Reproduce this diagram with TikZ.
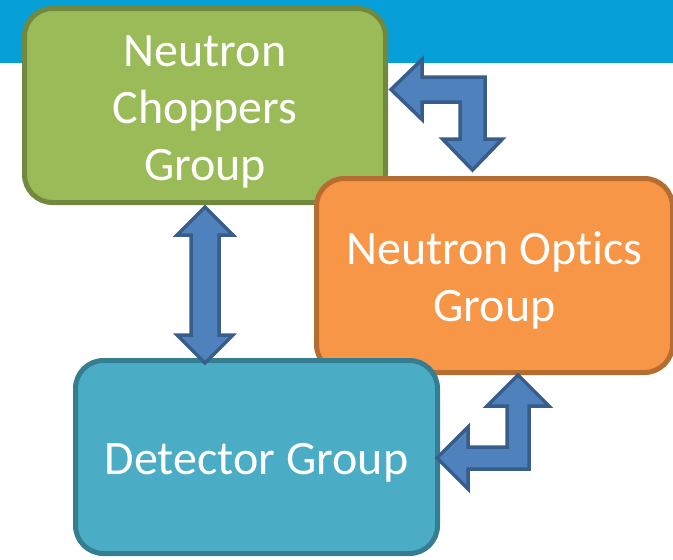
\documentclass[tikz,border=0pt]{standalone}
\usepackage{fontspec}
\setmainfont{Carlito}[Ligatures=NoCommon]
\usetikzlibrary{calc}

\definecolor{bandblue}{HTML}{069FD8}
\definecolor{grpgreen}{HTML}{9BBB59}
\definecolor{grpgreenline}{HTML}{71893F}
\definecolor{grporange}{HTML}{F79646}
\definecolor{grporangeline}{HTML}{B66D31}
\definecolor{grpteal}{HTML}{4BACC6}
\definecolor{grptealline}{HTML}{357D91}
\definecolor{arrowfill}{HTML}{4F81BD}
\definecolor{arrowline}{HTML}{385D8A}

\newcommand\grpstrut{\rule{0pt}{43pt}}

\tikzset{
  group/.style={rectangle, rounded corners=28pt, line width=5pt, inner sep=0pt,
    minimum width=356pt, minimum height=194pt, align=center, text=white,
    font=\fontsize{48}{57}\selectfont},
  blockarrow/.style={fill=arrowfill, draw=arrowline, line width=3.5pt, line join=miter},
}

\begin{document}
\begin{tikzpicture}[x=1pt,y=-1pt]
\useasboundingbox (0,0) rectangle (673,560);
\fill[bandblue] (0,0) rectangle (673,63);

\node[group, fill=grpgreen, draw=grpgreenline, minimum width=361pt] (choppers) at (205,105.5) {\grpstrut Neutron\\Choppers\\Group};
\node[group, fill=grporange, draw=grporangeline] (optics) at (494.5,275.5) {\grpstrut Neutron Optics\\Group};
\node[group, fill=grpteal, draw=grptealline, minimum width=362pt, minimum height=193pt] (detector) at (256.5,457) {\grpstrut Detector Group};

% choppers <-> detector
\coordinate (cd) at ($(choppers.south)+(0,2)$);
\draw[blockarrow] (cd) -- ++(28,28) -- ++(-14,0) -- ++(0,100) -- ++(14,0) -- ++(-28,28)
  -- ++(-28,-28) -- ++(14,0) -- ++(0,-100) -- ++(-14,0) -- cycle;

% choppers <-> optics
\coordinate (co) at ($(choppers.east)+(3,-16)$);
\draw[blockarrow] (co) -- ++(31,-30) -- ++(0,17.5) -- ++(63,0) -- ++(0,62) -- ++(17.5,0)
  -- ++(-30,31) -- ++(-30,-31) -- ++(17.5,0) -- ++(0,-37) -- ++(-38,0) -- ++(0,17.5) -- cycle;

% detector <-> optics
\coordinate (do) at ($(detector.east)+(-3,1)$);
\draw[blockarrow] (do) -- ++(31,-31) -- ++(0,20) -- ++(39,0) -- ++(0,-41) -- ++(-20,0)
  -- ++(31,-31) -- ++(31,31) -- ++(-20,0) -- ++(0,63) -- ++(-61,0) -- ++(0,20) -- cycle;
\end{tikzpicture}
\end{document}
